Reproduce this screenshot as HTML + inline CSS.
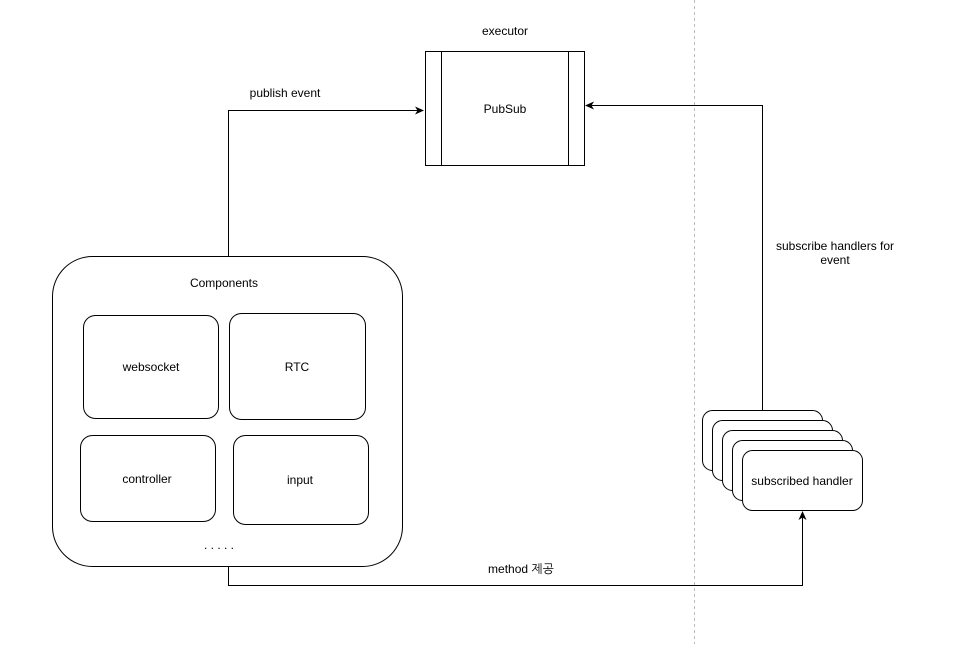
<!DOCTYPE html>
<html><head><meta charset="utf-8"><style>
body{margin:0;background:#fff}
svg text{font-family:"Liberation Sans","NanumGothic",sans-serif;font-size:12px;fill:#000}
</style></head><body>
<svg width="964" height="644" viewBox="0 0 964 644" xmlns="http://www.w3.org/2000/svg">
<defs><marker id="a" markerWidth="10" markerHeight="10" refX="8" refY="5" orient="auto" markerUnits="userSpaceOnUse"><path d="M0,1 L9,5 L0,9 L2.5,5 Z" fill="#000"/></marker></defs>
<line x1="694.5" y1="0" x2="694.5" y2="644" stroke="#bbb" stroke-dasharray="3,3"/>
<g fill="none" stroke="#000" stroke-width="1">
<rect x="425.5" y="51.5" width="159" height="114" fill="#fff"/>
<line x1="441.5" y1="51.5" x2="441.5" y2="165.5"/>
<line x1="568.5" y1="51.5" x2="568.5" y2="165.5"/>
<rect x="52.5" y="256.5" width="350" height="310" rx="40" fill="#fff"/>
<rect x="83.5" y="315.5" width="135" height="103" rx="12"/>
<rect x="229.5" y="313.5" width="136" height="106" rx="12"/>
<rect x="80.5" y="435.5" width="135" height="86" rx="12"/>
<rect x="233.5" y="435.5" width="135" height="89" rx="12"/>
<rect x="702.5" y="410.5" width="120" height="60" rx="10" fill="#fff"/>
<rect x="712.5" y="420.5" width="120" height="60" rx="10" fill="#fff"/>
<rect x="722.5" y="430.5" width="120" height="60" rx="10" fill="#fff"/>
<rect x="732.5" y="440.5" width="120" height="60" rx="10" fill="#fff"/>
<rect x="742.5" y="450.5" width="120" height="60" rx="10" fill="#fff"/>
<path d="M228.5,256 V110.5 H423" marker-end="url(#a)"/>
<path d="M762.5,410 V105.5 H586" marker-end="url(#a)"/>
<path d="M228.5,566 V585.5 H802.5 V512" marker-end="url(#a)"/>
</g>
<g text-anchor="middle">
<text x="505" y="35">executor</text>
<text x="505" y="113">PubSub</text>
<text x="285" y="97">publish event</text>
<text x="835" y="250">subscribe handlers for</text>
<text x="835" y="264">event</text>
<text x="224" y="287">Components</text>
<text x="151" y="371">websocket</text>
<text x="297" y="371">RTC</text>
<text x="147" y="483">controller</text>
<text x="300" y="484">input</text>
<text x="219" y="549">. . . . .</text>
<text x="802" y="485">subscribed handler</text>
<text x="521" y="573">method 제공</text>
</g>
</svg>
</body></html>
